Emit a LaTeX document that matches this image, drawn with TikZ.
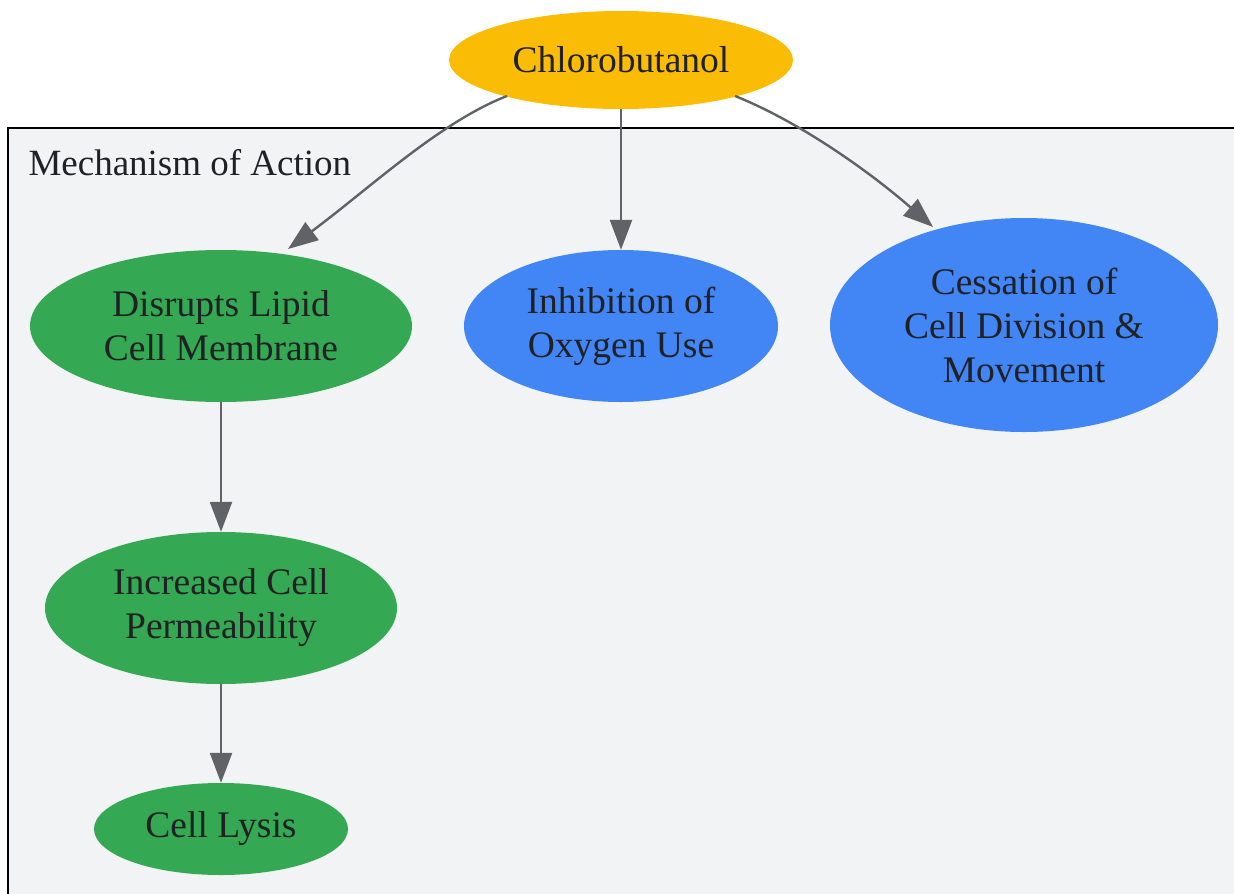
\documentclass[tikz,border=0pt]{standalone}
\usepackage{fontspec}
\setmainfont{Liberation Serif}
\usetikzlibrary{shapes.geometric,arrows.meta}
\definecolor{cyellow}{HTML}{FBBC05}
\definecolor{cgreen}{HTML}{34A853}
\definecolor{cblue}{HTML}{4285F4}
\definecolor{cbg}{HTML}{F1F3F4}
\definecolor{cedge}{HTML}{5F6368}
\definecolor{ctext}{HTML}{202124}
\tikzset{
  nodebox/.style={ellipse, inner sep=0pt, draw=none, text=ctext, align=center,
    font=\fontsize{37.5}{44}\selectfont},
  conn/.style={draw=cedge, line width=2.4pt, -{Triangle[length=30pt,width=22pt]}},
}
\begin{document}
\begin{tikzpicture}[x=1pt,y=-1pt]
\useasboundingbox (0,0) rectangle (1234,894);
\begin{scope}
\clip (0,0) rectangle (1234,894);
\draw[fill=cbg, draw=black, line width=2pt] (8,128) rectangle (1250,910);
\end{scope}
\node[anchor=west, text=ctext, font=\fontsize{37}{44}\selectfont] (lbl) at (25,163) {Mechanism of Action};

\node[nodebox, fill=cyellow, minimum width=344pt, minimum height=98pt] (chl) at (621,60) {Chlorobutanol};
\node[nodebox, fill=cgreen, minimum width=382pt, minimum height=152pt] (dis) at (221,326) {Disrupts Lipid\\Cell Membrane};
\node[nodebox, fill=cblue, minimum width=314pt, minimum height=152pt] (inh) at (621,326) {Inhibition of\\Oxygen Use};
\node[nodebox, fill=cblue, minimum width=388pt, minimum height=214pt] (ces) at (1024,325) {Cessation of\\Cell Division \&\\Movement};
\node[nodebox, fill=cgreen, minimum width=352pt, minimum height=152pt] (inc) at (221,608) {Increased Cell\\Permeability};
\node[nodebox, fill=cgreen, minimum width=254pt, minimum height=92pt] (lys) at (221,829) {Cell Lysis};

\coordinate (c1) at (507,96);
\coordinate (c2) at (735,96);
\coordinate (t1) at (288,249);
\coordinate (t3) at (933,227);
\draw[conn] (c1) .. controls (440,122) and (370,188) .. (t1);
\draw[conn] (chl.south) -- (inh.north);
\draw[conn] (c2) .. controls (800,122) and (870,172) .. (t3);
\draw[conn] (dis.south) -- (inc.north);
\draw[conn] (inc.south) -- (lys.north);
\end{tikzpicture}
\end{document}
